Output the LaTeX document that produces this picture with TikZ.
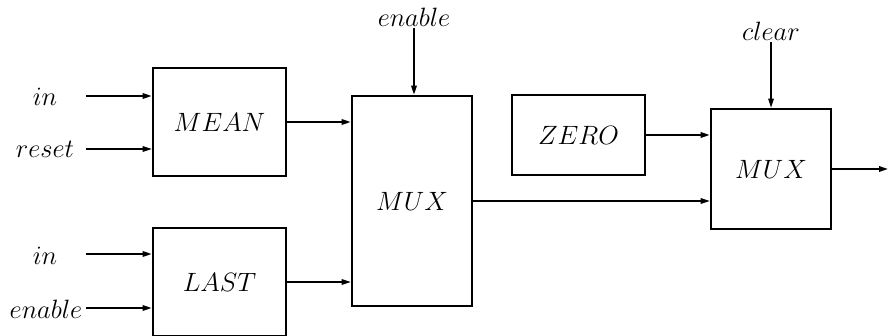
\RequirePackage{fix-cm}
\documentclass[tikz,border=0pt]{standalone}
\usetikzlibrary{arrows.meta}
\begin{document}
\begin{tikzpicture}[x=1pt,y=-1pt,
  blk/.style={draw,line width=2.6pt,inner sep=0pt,font=\fontsize{26.5}{31}\selectfont},
  lbl/.style={inner sep=0pt,font=\fontsize{26.5}{31}\selectfont},
  arr/.style={line width=1.7pt,-{Triangle[length=9pt,width=5.5pt]}},
  thinline/.style={line width=1.3pt}]
\useasboundingbox (0,0) rectangle (888,336);
% blocks
\node[blk,minimum width=133pt,minimum height=108pt] (mean) at (219.5,122) {$MEAN$};
\node[blk,minimum width=133pt,minimum height=108pt] (last) at (219.5,282) {$LAST$};
\node[blk,minimum width=120pt,minimum height=210pt] (mux1) at (412,201) {$MUX$};
\node[blk,minimum width=133pt,minimum height=80pt] (zero) at (578.5,135) {$ZERO$};
\node[blk,minimum width=120pt,minimum height=120pt] (mux2) at (771,169) {$MUX$};
% labels
\node[lbl] (lin1) at (45,97) {$in$};
\node[lbl] (lreset) at (45,149) {$reset$};
\node[lbl] (lin2) at (45,256) {$in$};
\node[lbl] (lenable) at (46,309) {$enable$};
\node[lbl] (lenable2) at (414,17) {$enable$};
\node[lbl] (lclear) at (771,31) {$clear$};
% free ends
\coordinate (cin1) at (86,96);
\coordinate (creset) at (86,149);
\coordinate (cin2) at (86,254);
\coordinate (cenable) at (86,308);
\coordinate (ctop1) at (414,28);
\coordinate (ctop2) at (771,42);
\coordinate (cout) at (888,169);
% connectors
\draw[arr] (cin1) -- (cin1 -| mean.west);
\draw[arr,thinline] (creset) -- (creset -| mean.west);
\draw[arr] (cin2) -- (cin2 -| last.west);
\draw[arr] (cenable) -- (cenable -| last.west);
\draw[arr] (mean.east) -- (mean.east -| mux1.west);
\draw[arr,thinline] (last.east) -- (last.east -| mux1.west);
\draw[arr] (ctop1) -- (ctop1 |- mux1.north);
\draw[arr,thinline] (ctop2) -- (ctop2 |- mux2.north);
\draw[arr] (zero.east) -- (zero.east -| mux2.west);
\draw[arr,thinline] (mux1.east) -- (mux1.east -| mux2.west);
\draw[arr] (mux2.east) -- (cout);
\end{tikzpicture}
\end{document}
